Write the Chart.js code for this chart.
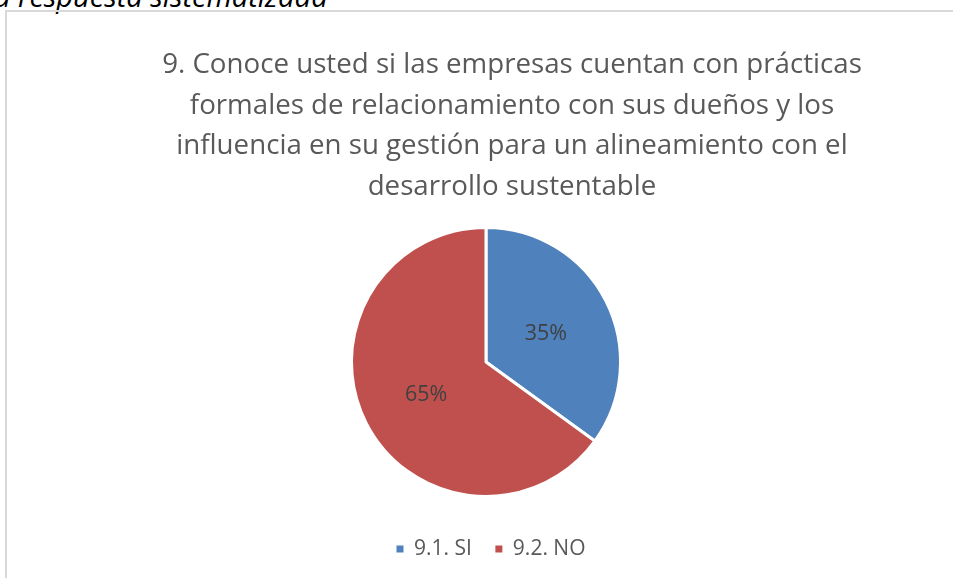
<!DOCTYPE html>
<html>
<head>
<meta charset="utf-8">
<script src="https://cdn.jsdelivr.net/npm/chart.js@4/dist/chart.umd.min.js"></script>
<style>
  html, body { margin: 0; padding: 0; background: #ffffff; width: 953px; height: 578px; overflow: hidden; }
  #cap { position: absolute; left: -6px; top: -19px; font: italic 29px/29px "Open Sans", sans-serif; color: #000000; white-space: nowrap; }
  #frame { position: absolute; left: 5px; top: 10px; width: 1100px; height: 700px; border: 2px solid #d9d9d9; box-sizing: border-box; }
  #wrap { position: absolute; left: 0; top: 0; width: 953px; height: 578px; }
</style>
</head>
<body>
<div id="cap">a respuesta sistematizada</div>
<div id="frame"></div>
<div id="wrap"><canvas id="c" width="953" height="578"></canvas></div>
<script>
// ---- data ----
const titleLines = [
  '9. Conoce usted si las empresas cuentan con prácticas',
  'formales de relacionamiento con sus dueños y los',
  'influencia en su gestión para un alineamiento con el',
  'desarrollo sustentable'
];
const categories = ['9.1. SI', '9.2. NO'];
const values = [35, 65];
const sliceColors = ['#4F81BD', '#C0504D'];

// ---- styling constants ----
const FONT = '"Open Sans"';
const TITLE_DX = 26;
const LEGEND_DX = 5;

const total = values.reduce((a, b) => a + b, 0);
const pctText = values.map(v => Math.round(v / total * 100) + '%');

const shiftBoxes = {
  id: 'shiftBoxes',
  afterLayout(chart) {
    const t = chart.titleBlock;
    if (t) { t.left += TITLE_DX; t.right += TITLE_DX; }
    const l = chart.legend;
    if (l) { l.left += LEGEND_DX; l.right += LEGEND_DX; }
  }
};

const pctLabels = {
  id: 'pctLabels',
  afterDatasetsDraw(chart) {
    const ctx = chart.ctx;
    const meta = chart.getDatasetMeta(0);
    ctx.save();
    ctx.font = '21.5px ' + FONT;
    ctx.fillStyle = '#404040';
    ctx.textAlign = 'center';
    ctx.textBaseline = 'middle';
    meta.data.forEach((arc, i) => {
      const p = arc.tooltipPosition();
      ctx.fillText(pctText[i], p.x, p.y + 2);
    });
    ctx.restore();
  }
};

new Chart(document.getElementById('c'), {
  type: 'pie',
  data: {
    labels: categories,
    datasets: [{
      data: values,
      backgroundColor: sliceColors,
      borderColor: '#ffffff',
      borderWidth: 3
    }]
  },
  options: {
    responsive: false,
    devicePixelRatio: 1,
    animation: false,
    events: [],
    radius: 134.5,
    layout: { padding: { left: 19, right: 0, top: 0, bottom: 8.5 } },
    plugins: {
      title: {
        display: true,
        text: titleLines,
        color: '#595959',
        font: { family: FONT, size: 27.7, weight: 'normal', lineHeight: 40.5 / 27.7 },
        padding: { top: 45, bottom: 2 }
      },
      legend: {
        position: 'bottom',
        labels: {
          boxWidth: 7,
          boxHeight: 7,
          padding: 23.5,
          color: '#595959',
          font: { family: FONT, size: 21 },
          generateLabels: (chart) =>
            Chart.overrides.pie.plugins.legend.labels.generateLabels(chart)
              .map(item => Object.assign(item, { lineWidth: 0 }))
        }
      },
      tooltip: { enabled: false }
    }
  },
  plugins: [shiftBoxes, pctLabels]
});
</script>
</body>
</html>
